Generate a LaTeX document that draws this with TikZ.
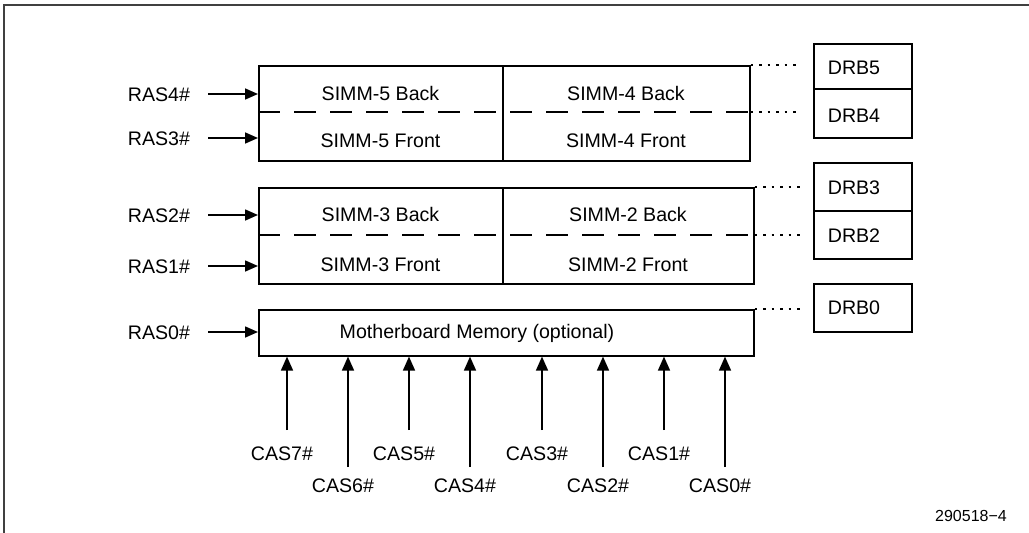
\documentclass[tikz,border=0pt]{standalone}
\usepackage{fontspec}
\setmainfont{Liberation Sans}
\usetikzlibrary{arrows.meta}
\begin{document}
\begin{tikzpicture}[x=1pt,y=-1pt,
  lbl/.style={font=\fontsize{19.6}{22}\selectfont, inner sep=0pt, anchor=base},
  blk/.style={draw, line width=1.6pt, inner sep=0pt, anchor=north west},
  arr/.style={line width=1.6pt, -{Triangle[length=13pt,width=11pt]}},
  dashdiv/.style={line width=1.6pt, dash pattern=on 22pt off 14pt},
  dotl/.style={line width=1.4pt, dash pattern=on 2.5pt off 6pt},
  divl/.style={line width=1.6pt}]
\useasboundingbox (0,0) rectangle (1029,533);
% outer frame (left and top only)
\draw[line width=2.5pt, black!75] (4,533) -- (4,5) -- (1029,5);

% memory blocks
\node[blk, minimum width=491pt, minimum height=95pt] (b1) at (258,65) {};
\node[blk, minimum width=495pt, minimum height=96pt] (b2) at (258,187) {};
\node[blk, minimum width=495pt, minimum height=46pt] (b3) at (258,309) {};

% dividers
\draw[divl] (503,0 |- b1.north) -- (503,0 |- b1.south);
\draw[divl] (503,0 |- b2.north) -- (503,0 |- b2.south);
\draw[dashdiv] (b1.west |- 0,112) -- (b1.east |- 0,112);
\draw[dashdiv] (b2.west |- 0,235) -- (b2.east |- 0,235);

% cell texts
\node[lbl] (s5b) at (380.5,100) {SIMM-5 Back};
\node[lbl] (s4b) at (626,100) {SIMM-4 Back};
\node[lbl] (s5f) at (380.5,147) {SIMM-5 Front};
\node[lbl] (s4f) at (626,147) {SIMM-4 Front};
\node[lbl] (s3b) at (380.5,221) {SIMM-3 Back};
\node[lbl] (s2b) at (628,221) {SIMM-2 Back};
\node[lbl] (s3f) at (380.5,271) {SIMM-3 Front};
\node[lbl] (s2f) at (628,271) {SIMM-2 Front};
\node[lbl] (mb) at (477,338) {Motherboard Memory (optional)};

% DRB boxes
\node[blk, minimum width=98pt, minimum height=45pt] (drb5) at (813,43) {};
\node[blk, minimum width=98pt, minimum height=49pt] (drb4) at (813,88) {};
\node[blk, minimum width=98pt, minimum height=48pt] (drb3) at (813,162) {};
\node[blk, minimum width=98pt, minimum height=48pt] (drb2) at (813,210) {};
\node[blk, minimum width=98pt, minimum height=48pt] (drb0) at (813,283) {};
\node[lbl] (t5) at (854,74) {DRB5};
\node[lbl] (t4) at (854,122) {DRB4};
\node[lbl] (t3) at (854,194) {DRB3};
\node[lbl] (t2) at (854,242) {DRB2};
\node[lbl] (t0) at (854,314) {DRB0};

% dotted links
\draw[dotl] (b1.north east) -- (800,0 |- b1.north east);
\draw[dotl] (b1.east |- 0,112) -- (800,112);
\draw[dotl] (b2.north east) -- (800,0 |- b2.north east);
\draw[dotl] (b2.east |- 0,235) -- (800,235);
\draw[dotl] (b3.north east) -- (800,0 |- b3.north east);

% RAS signals
\node[lbl] (ras4) at (159,101) {RAS4\#};
\node[lbl] (ras3) at (159,145) {RAS3\#};
\node[lbl] (ras2) at (159,222) {RAS2\#};
\node[lbl] (ras1) at (159,273) {RAS1\#};
\node[lbl] (ras0) at (159,339) {RAS0\#};
\draw[arr] (208,94) -- (b1.west |- 0,94);
\draw[arr] (208,138) -- (b1.west |- 0,138);
\draw[arr] (208,215) -- (b2.west |- 0,215);
\draw[arr] (208,266) -- (b2.west |- 0,266);
\draw[arr] (208,332) -- (b3.west |- 0,332);

% CAS signals
\foreach \n/\x/\ys/\yl in {7/287/430/460, 6/348/467/492, 5/409/430/460, 4/470/467/492,
                           3/542/430/460, 2/603/467/492, 1/664/430/460, 0/725/467/492}{
  \node[lbl] (cas\n) at (\x-5,\yl) {CAS\n\#};
  \coordinate (c\n) at (\x,\ys);
  \draw[arr, -{Triangle[length=14pt,width=12pt]}] (c\n) -- (c\n |- b3.south);
}

% figure number
\node[font=\fontsize{16}{18}\selectfont, inner sep=0pt, anchor=base] (fig) at (971,521) {290518−4};
\end{tikzpicture}
\end{document}
